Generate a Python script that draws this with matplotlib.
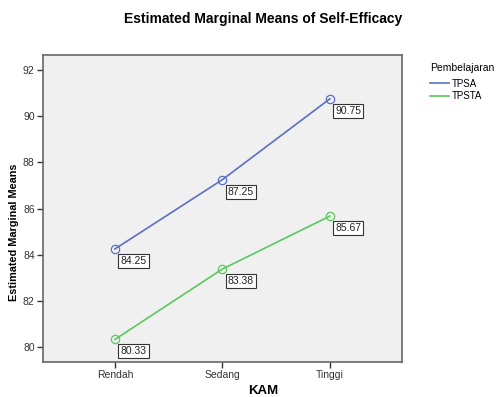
import matplotlib
matplotlib.use("Agg")
import matplotlib.pyplot as plt
from matplotlib.lines import Line2D

categories = ["Rendah", "Sedang", "Tinggi"]
tpsa = [84.25, 87.25, 90.75]
tpsta = [80.33, 83.38, 85.67]
series_names = ["TPSA", "TPSTA"]
yticks = [80, 82, 84, 86, 88, 90, 92]

plt.rcParams['font.family'] = ['Liberation Sans', 'DejaVu Sans']

fig = plt.figure(figsize=(5.01, 3.97), dpi=100)
ax = fig.add_axes([0.0858, 0.088, 0.7162, 0.7735])
ax.set_facecolor('#f0f0f0')

colors = ['#5b6fc4', '#5ac85a']
x = list(range(len(categories)))
for vals, name, c in zip([tpsa, tpsta], series_names, colors):
    ax.plot(x, vals, color=c, lw=1.2, marker='o', markersize=6,
            markerfacecolor='none', markeredgecolor=c, markeredgewidth=0.9)
    for xi, v in zip(x, vals):
        ax.annotate(f"{v:.2f}", (xi, v), xytext=(4, -5), textcoords='offset points',
                    ha='left', va='top', fontsize=7.5, color='#222222',
                    bbox=dict(boxstyle='square,pad=0.2', fc='white', ec='#333333', lw=0.8))

ax.set_xlim(-0.67, 2.67)
ax.set_ylim(79.35, 92.65)
ax.set_xticks(x)
ax.set_xticklabels(categories, fontsize=7.5, color='#333333')
ax.set_yticks(yticks)
ax.set_yticklabels([str(t) for t in yticks], fontsize=7.5, color='#333333')
ax.tick_params(length=4, width=1, color='#333333', pad=2)
for s in ax.spines.values():
    s.set_color('#666666')
    s.set_linewidth(1.2)

fig.text(0.525, 1 - 391 / 397, "KAM", ha='center', va='center', fontsize=9.5, fontweight='bold')
fig.text(14 / 501, 1 - 232 / 397, "Estimated Marginal Means", ha='center', va='center',
         rotation=90, fontsize=7.8, fontweight='bold')
fig.text(0.525, 0.952, "Estimated Marginal Means of Self-Efficacy", ha='center', va='center',
         fontsize=10, fontweight='bold')

handles = [Line2D([0], [0], color=c, lw=1.2) for c in colors]
leg = fig.legend(handles, series_names, loc='upper left', bbox_to_anchor=(0.848, 0.853),
                 frameon=False, title="Pembelajaran", fontsize=7, title_fontsize=7.5,
                 handlelength=2.0, handletextpad=0.3, labelspacing=0.25, borderpad=0)
leg._legend_box.align = "left"
leg._legend_box.sep = 4

fig.savefig("out.png", dpi=100)
